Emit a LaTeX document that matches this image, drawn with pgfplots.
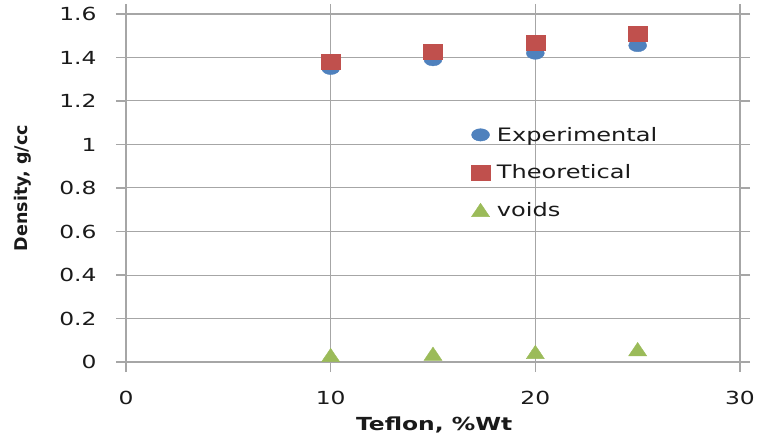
\documentclass[border=0pt]{standalone}
\usepackage{fontspec}
\setmainfont{DejaVu Sans}[FakeStretch=1.3]
\newfontfamily\ylabfont{DejaVu Sans}
\usepackage{pgfplots}
\pgfplotsset{compat=1.18}
\definecolor{gridgray}{HTML}{A6A6A6}
\definecolor{cblue}{HTML}{4F81BD}
\definecolor{cred}{HTML}{C0504D}
\definecolor{cgreen}{HTML}{9BBB59}
\definecolor{txt}{HTML}{1A1A1A}
\begin{document}
\begin{tikzpicture}
\begin{axis}[
  scale only axis, width=614bp, height=348bp,
  xmin=0, xmax=30, ymin=0, ymax=1.6,
  xtick={0,10,20,30},
  ytick={0,0.2,0.4,0.6,0.8,1,1.2,1.4,1.6},
  grid=major,
  major grid style={gridgray, line width=1bp},
  axis line style={gridgray, line width=1.1bp},
  tick style={gridgray, line width=1.1bp},
  tick align=outside, major tick length=10bp,
  font=\fontsize{18bp}{21bp}\selectfont,
  ticklabel style={text=txt},
  /pgf/number format/assume math mode=true,
  yticklabel style={xshift=-16bp},
  xticklabel style={yshift=-16bp},
  xlabel={\bfseries Teflon, \%Wt},
  ylabel={\ylabfont\fontsize{17.5bp}{20bp}\selectfont\bfseries Density, g/cc},
  xlabel style={at={(axis description cs:0.502,-0.181)}, anchor=center, text=txt},
  ylabel style={at={(axis description cs:-0.168,0.5)}, anchor=center, text=txt},
  legend style={draw=none, fill=none, at={(0.557,0.687)}, anchor=north west,
    font=\fontsize{18.5bp}{21bp}\selectfont, row sep=18bp, text=txt,
    /tikz/every odd column/.append style={column sep=5bp}},
  legend cell align=left,
]
\addplot[only marks, mark=*, mark size=6.2bp, color=cblue,
  mark options={xscale=1.45, draw=none, fill=cblue}]
  coordinates {(10,1.35) (15,1.39) (20,1.42) (25,1.455)};
\addlegendentry{Experimental}
\addplot[only marks, mark=square*, mark size=7.5bp, color=cred,
  mark options={xscale=1.25, draw=none, fill=cred}]
  coordinates {(10,1.38) (15,1.425) (20,1.47) (25,1.51)};
\addlegendentry{Theoretical}
\addplot[only marks, mark=triangle*, mark size=8.9bp, color=cgreen,
  mark options={xscale=1.17, yshift=-2.2bp, draw=none, fill=cgreen}]
  coordinates {(10,0.032) (15,0.038) (20,0.046) (25,0.059)};
\addlegendentry{voids}
\end{axis}
\pgfresetboundingbox
\path (current axis.south west) ++(-126bp,-80bp) rectangle ++(758bp,442bp);
\end{tikzpicture}
\end{document}
